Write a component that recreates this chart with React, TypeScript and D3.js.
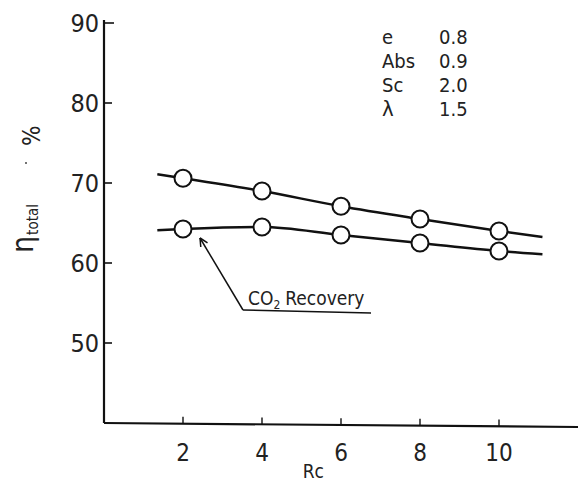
import React from 'react';
import * as d3 from 'd3';

// Rc values where circles were measured
const rcValues = [2, 4, 6, 8, 10];
const etaUpper = [70.6, 69.0, 67.1, 65.5, 64.0];
const etaCO2 = [64.25, 64.5, 63.5, 62.5, 61.5];
// ends of the drawn curves beyond the first/last points
const curveEndsRc = [1.35, 11.1];
const upperEnds = [71.1, 63.25];
const co2Ends = [64.1, 61.1];

const xTicks = [2, 4, 6, 8, 10];
const yTicks = [50, 60, 70, 80, 90];

const paramNames = ['e', 'Abs', 'Sc', 'λ'];
const paramValues = ['0.8', '0.9', '2.0', '1.5'];

const W = 581;
const H = 483;
const FONT = '"DejaVu Sans Condensed", "Liberation Sans", sans-serif';

const App = () => {
  const x = d3.scaleLinear().domain([0, 12]).range([104, 578]);
  const y = d3.scaleLinear().domain([40, 90]).range([423, 23]);

  const line = d3
    .line<[number, number]>()
    .x((d) => x(d[0]))
    .y((d) => y(d[1]))
    .curve(d3.curveMonotoneX);

  const withEnds = (vals: number[], ends: number[]): [number, number][] => [
    [curveEndsRc[0], ends[0]],
    ...rcValues.map((r, i) => [r, vals[i]] as [number, number]),
    [curveEndsRc[1], ends[1]],
  ];

  const series = [
    { name: 'total', vals: etaUpper, ends: upperEnds },
    { name: 'co2', vals: etaCO2, ends: co2Ends },
  ];

  // annotation geometry, anchored on the CO2 point at Rc = 2
  const tipX = x(rcValues[0]) + 17;
  const tipY = y(etaCO2[0]) + 9;
  const elbowX = tipX + 43;
  const elbowY = tipY + 72;
  const ang = Math.atan2(elbowY - tipY, elbowX - tipX);
  const head = 9;
  const spread = 0.45;

  return (
    <svg
      width={W}
      height={H}
      style={{ position: 'absolute', left: 0, top: 0, background: '#fff' }}
      fontFamily={FONT}
    >
      {/* axes */}
      <line x1={x(0)} y1={y(90) - 3} x2={x(0)} y2={y(40)} stroke="#111" strokeWidth={2.2} />
      <line x1={x(0)} y1={y(40)} x2={578} y2={y(40) + 4} stroke="#111" strokeWidth={2.2} />

      {yTicks.map((t) => (
        <g key={t}>
          <line
            x1={x(0)}
            x2={x(0) + (t === 90 ? 10 : 8)}
            y1={y(t)}
            y2={y(t)}
            stroke="#111"
            strokeWidth={1.6}
          />
          <text
            x={x(0) - 5}
            y={y(t)}
            dy="0.36em"
            textAnchor="end"
            fontSize={25}
            fill="#222"
          >
            {t}
          </text>
        </g>
      ))}

      {xTicks.map((t) => (
        <g key={t}>
          <line
            x1={x(t)}
            x2={x(t)}
            y1={y(40) + (x(t) - 104) * 0.009}
            y2={y(40) + (x(t) - 104) * 0.009 - 7}
            stroke="#111"
            strokeWidth={1.4}
          />
          <text x={x(t)} y={461} textAnchor="middle" fontSize={24} fill="#222">
            {t}
          </text>
        </g>
      ))}
      <text x={x(5.3)} y={478} textAnchor="middle" fontSize={19} fill="#222">
        Rc
      </text>

      {/* y label */}
      <g transform="translate(33,253) rotate(-90)">
        <text fontSize={30} fill="#222">
          η
          <tspan fontSize={15} dy={5} dx={1}>
            total
          </tspan>
        </text>
      </g>
      <text transform="translate(40,146) rotate(-90)" fontSize={24} fill="#222">
        %
      </text>
      <circle cx={26} cy={163} r={1} fill="#444" />

      {/* curves */}
      {series.map((s) => (
        <path
          key={s.name}
          d={line(withEnds(s.vals, s.ends)) || ''}
          fill="none"
          stroke="#111"
          strokeWidth={2.4}
        />
      ))}
      {series.map((s) =>
        rcValues.map((r, i) => (
          <circle
            key={s.name + r}
            cx={x(r)}
            cy={y(s.vals[i])}
            r={8.5}
            fill="#fff"
            stroke="#111"
            strokeWidth={2}
          />
        ))
      )}

      {/* CO2 recovery annotation */}
      <line x1={tipX} y1={tipY} x2={elbowX} y2={elbowY} stroke="#111" strokeWidth={1.5} />
      <line
        x1={tipX}
        y1={tipY}
        x2={tipX + head * Math.cos(ang - spread)}
        y2={tipY + head * Math.sin(ang - spread)}
        stroke="#111"
        strokeWidth={1.5}
      />
      <line
        x1={tipX}
        y1={tipY}
        x2={tipX + head * Math.cos(ang + spread)}
        y2={tipY + head * Math.sin(ang + spread)}
        stroke="#111"
        strokeWidth={1.5}
      />
      <line x1={elbowX} y1={elbowY} x2={elbowX + 128} y2={elbowY + 3} stroke="#111" strokeWidth={1.5} />
      <text x={elbowX + 5} y={elbowY - 5} fontSize={19} fill="#222">
        CO
        <tspan fontSize={12} dy={4}>
          2
        </tspan>
        <tspan dy={-4} dx={5}>
          Recovery
        </tspan>
      </text>

      {/* parameter block */}
      {paramNames.map((p, i) => (
        <g key={p}>
          <text x={382} y={44 + i * 24} fontSize={p === 'λ' ? 22 : 20} fill="#222">
            {p}
          </text>
          <text x={439} y={44 + i * 24} fontSize={20} fill="#222">
            {paramValues[i]}
          </text>
        </g>
      ))}
    </svg>
  );
};

export default App;
